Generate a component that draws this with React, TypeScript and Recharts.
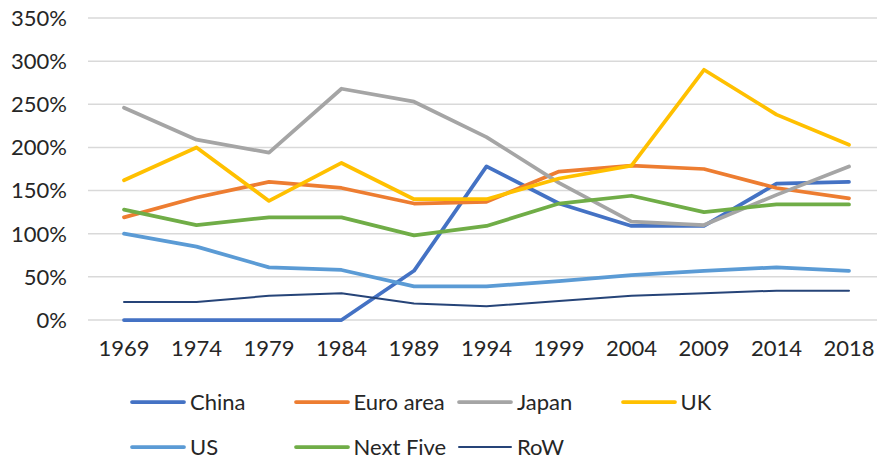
import React from 'react';
import { LineChart, Line, XAxis, YAxis, CartesianGrid, Legend } from 'recharts';

const years = ['1969', '1974', '1979', '1984', '1989', '1994', '1999', '2004', '2009', '2014', '2018'];
const china = [0, 0, 0, 0, 57, 178, 135, 109, 109, 158, 160];
const euroArea = [119, 142, 160, 153, 135, 137, 172, 179, 175, 153, 141];
const japan = [246, 209, 194, 268, 253, 212, 159, 114, 110, 145, 178];
const uk = [162, 200, 138, 182, 140, 140, 164, 179, 290, 238, 203];
const us = [100, 85, 61, 58, 39, 39, 45, 52, 57, 61, 57];
const nextFive = [128, 110, 119, 119, 98, 109, 135, 144, 125, 134, 134];
const row = [21, 21, 28, 31, 19, 16, 22, 28, 31, 34, 34];
const yTicks = [0, 50, 100, 150, 200, 250, 300, 350];

const series = [
  { key: 'China', values: china, color: '#4472C4', width: 3.75 },
  { key: 'Euro area', values: euroArea, color: '#ED7D31', width: 3.75 },
  { key: 'Japan', values: japan, color: '#A5A5A5', width: 3.75 },
  { key: 'UK', values: uk, color: '#FFC000', width: 3.75 },
  { key: 'US', values: us, color: '#5B9BD5', width: 3.75 },
  { key: 'Next Five', values: nextFive, color: '#70AD47', width: 3.75 },
  { key: 'RoW', values: row, color: '#264478', width: 2 },
];

const data = years.map((y, i) => {
  const o: Record<string, number | string> = { year: y };
  series.forEach((s) => {
    o[s.key] = s.values[i];
  });
  return o;
});

const FONT = 'Lato, sans-serif';
const WEIGHT = 400;
const TEXT = '#262626';

const CustomLegend = () => {
  const rows = [series.slice(0, 4), series.slice(4)];
  return (
    <div style={{ height: 109, width: 877, position: 'relative', fontFamily: FONT, fontWeight: WEIGHT }}>
      {rows.map((r, ri) => (
        <div key={ri} style={{ position: 'absolute', top: 40 + ri * 45, left: 130, display: 'flex' }}>
          {r.map((s) => (
            <div key={s.key} style={{ width: 163.5, display: 'flex', alignItems: 'center', height: 24 }}>
              <svg width={56} height={10} style={{ display: 'block' }}>
                <line x1={2} y1={5} x2={54} y2={5} stroke={s.color} strokeWidth={s.width} strokeLinecap="round" />
              </svg>
              <span style={{ marginLeft: 4, fontSize: 22, color: TEXT, lineHeight: '24px', whiteSpace: 'nowrap' }}>{s.key}</span>
            </div>
          ))}
        </div>
      ))}
    </div>
  );
};

export default function App() {
  return (
    <div style={{ position: 'absolute', left: 0, top: 0, width: 877, height: 459, background: '#fff', overflow: 'hidden' }}>
      <LineChart width={877} height={459} data={data} margin={{ top: 18, right: 0, left: 0, bottom: 0 }} style={{ fontFamily: FONT }}>
        <CartesianGrid horizontal vertical={false} stroke="#D9D9D9" strokeWidth={1.5} />
        <XAxis
          dataKey="year"
          axisLine={false}
          tickLine={false}
          tickSize={0}
          tickMargin={20}
          height={30}
          padding={{ left: 36, right: 28 }}
          interval={0}
          tick={{ fill: TEXT, fontSize: 22, fontFamily: FONT, fontWeight: WEIGHT }}
        />
        <YAxis
          domain={[0, 350]}
          ticks={yTicks}
          axisLine={false}
          tickLine={false}
          tickSize={0}
          tickMargin={21}
          width={88}
          interval={0}
          tickFormatter={(v: number) => `${v}%`}
          tick={{ fill: TEXT, fontSize: 22, fontFamily: FONT, fontWeight: WEIGHT }}
        />
        <Legend verticalAlign="bottom" align="left" content={<CustomLegend />} wrapperStyle={{ left: 0, width: 877, height: 109 }} />
        {series.map((s) => (
          <Line
            key={s.key}
            type="linear"
            dataKey={s.key}
            stroke={s.color}
            strokeWidth={s.width}
            dot={false}
            activeDot={false}
            strokeLinecap="round"
            strokeLinejoin="round"
            isAnimationActive={false}
          />
        ))}
      </LineChart>
    </div>
  );
}
